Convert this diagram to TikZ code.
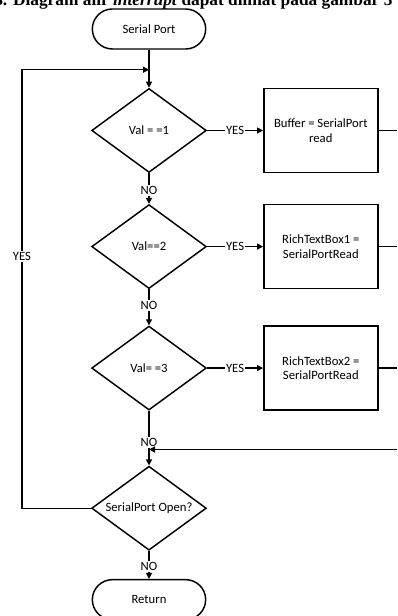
\documentclass[tikz,border=0pt]{standalone}
\usepackage{fontspec}
\setmainfont{Liberation Serif}
\setsansfont{Carlito}
\usetikzlibrary{arrows.meta,positioning,shapes.geometric}

\begin{document}
\begin{tikzpicture}[
    x=0.75pt, y=-0.75pt,
    node distance=22pt and 42pt,
    every node/.style={font=\sffamily\fontsize{9.5}{11}\selectfont},
    term/.style={rectangle, rounded corners=15pt, draw, line width=1.1pt, minimum width=85pt, minimum height=30pt, align=center},
    decision/.style={diamond, aspect=2, inner sep=0pt, draw, line width=1.1pt, minimum width=86pt, minimum height=63pt, align=center},
    process/.style={rectangle, draw, line width=1.1pt, minimum width=85.5pt, minimum height=63pt, align=center},
    flow/.style={line width=0.9pt},
    arrow/.style={flow, -{Triangle[length=4.5pt, width=4.5pt]}},
    tag/.style={fill=white, inner sep=1pt}
]
\useasboundingbox (0,0) rectangle (397,616);

\node[anchor=base west, inner sep=0pt, font=\rmfamily\bfseries\fontsize{13}{15}\selectfont] (caption) at (-6,6) {3. Diagram alir \textit{interrupt} dapat dilihat pada gambar 3};

\node[term] (start) at (149,29) {Serial Port};
\node[decision, below=28.5pt of start] (val1) {Val = =1};
\node[decision, below=23pt of val1] (val2) {Val==2};
\node[decision, below=27pt of val2] (val3) {Val= =3};
\node[decision, below=41pt of val3] (open) {SerialPort Open?};
\node[term, below=21pt of open] (ret) {Return};
\node[process, right=of val1] (buf) {Buffer = SerialPort\\read};
\node[process, right=of val2] (rtb1) {RichTextBox1 =\\SerialPortRead};
\node[process, right=of val3] (rtb2) {RichTextBox2 =\\SerialPortRead};

\coordinate (rim) at (397,0);
\coordinate (lft) at (22,0);
\coordinate[below=15pt of start] (merge1);
\coordinate[above=12pt of open] (merge2);

\draw[arrow] (start) -- (val1);
\draw[arrow] (val1) -- node[tag]{YES} (buf);
\draw[arrow] (val2) -- node[tag]{YES} (rtb1);
\draw[arrow] (val3) -- node[tag]{YES} (rtb2);
\draw[arrow] (val1) -- node[tag, pos=0.55]{NO} (val2);
\draw[arrow] (val2) -- node[tag, pos=0.44]{NO} (val3);
\draw[arrow] (val3) -- node[tag, pos=0.58]{NO} (open);
\draw[arrow] (open) -- node[tag, pos=0.54]{NO} (ret);

\draw[flow] (buf) -- (buf -| rim);
\draw[flow] (rtb1) -- (rtb1 -| rim);
\draw[flow] (rtb2) -- (rtb2 -| rim);
\draw[arrow] (merge2 -| rim) -- (merge2);
\draw[arrow] (open.west) -- (open.west -| lft) -- node[tag, pos=0.575]{YES} (lft |- merge1) -- (merge1);

\end{tikzpicture}
\end{document}
